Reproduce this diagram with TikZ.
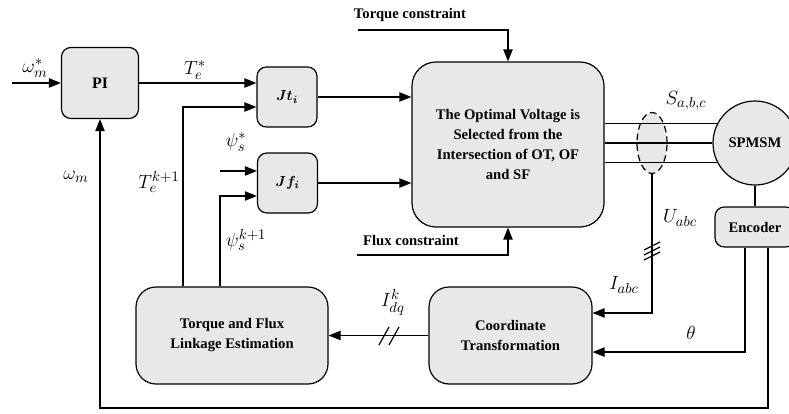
\documentclass[tikz,border=0pt]{standalone}
\usepackage{fontspec}
\setmainfont{Liberation Serif}
\usepackage{amsmath}
\usetikzlibrary{arrows.meta,shapes.geometric}

\definecolor{boxgray}{RGB}{232,232,232}

\tikzset{
  blk/.style={draw, line width=0.9pt, fill=boxgray, rounded corners=7pt,
              align=center, inner sep=0pt,
              font=\fontsize{11}{15}\selectfont\bfseries},
  sig/.style={line width=0.9pt, -{Triangle[length=9pt,width=7pt]}},
  wire/.style={line width=0.9pt},
  lbl/.style={font=\fontsize{15}{17}\selectfont, inner sep=0pt},
  cst/.style={font=\fontsize{11}{13}\selectfont\bfseries, inner sep=0pt},
}

\begin{document}
\begin{tikzpicture}[x=0.75pt, y=-0.75pt]
    \useasboundingbox (0,0) rectangle (789,414);

    % blocks
    \node[blk, minimum width=57.75pt, minimum height=53.25pt] (pi) at (100,83) {\fontsize{12}{14}\selectfont PI};
    \node[blk, minimum width=45pt, minimum height=45pt] (jt) at (287,97) {$\boldsymbol{Jt_i}$};
    \node[blk, minimum width=45pt, minimum height=45pt] (jf) at (287.5,183) {$\boldsymbol{Jf_i}$};
    \node[blk, rounded corners=18pt, minimum width=144pt, minimum height=123.75pt] (big) at (508,144.5)
      {The Optimal Voltage is\\Selected from the\\Intersection of OT, OF\\and SF};
    \node[blk, rounded corners=15pt, minimum width=144pt, minimum height=72.75pt] (est) at (232,335.5)
      {Torque and Flux\\Linkage Estimation};
    \node[blk, rounded corners=15pt, minimum width=122.25pt, minimum height=72.75pt] (crd) at (510.5,335.5)
      {Coordinate\\Transformation};
    \node[blk, circle, minimum size=63pt] (mot) at (755,143) {SPMSM};
    \node[blk, minimum width=60pt, minimum height=30pt] (enc) at (755,227) {Encoder};
    \node[ellipse, draw, dashed, dash pattern=on 5pt off 3pt, line width=0.9pt, fill=boxgray,
          minimum width=22.5pt, minimum height=45.75pt, inner sep=0pt] (grp) at (652,143) {};

    % constraint texts
    \node[cst] (tcl) at (410,15) {Torque constraint};
    \node[cst] (fcl) at (411,240) {Flux constraint};

    \coordinate (win) at (12,83);
    \coordinate (tkb) at (183,107);
    \coordinate (pkb) at (220,196);
    \coordinate (psin) at (220,171);
    \coordinate (tcs) at (358,30);
    \coordinate (fcs) at (357,255);
    \coordinate (fb) at (100,408);
    \coordinate (tri) at (652,251);
    \coordinate (dbl) at (389,336);

    % speed loop
    \draw[sig] (win) -- (pi.west);
    \draw[sig] (pi.east) -- (pi.east -| jt.west);
    \draw[sig] (est.north -| tkb) |- (jt.west |- tkb);
    \draw[sig] (psin) -- (jf.west |- psin);
    \draw[sig] (est.north -| pkb) |- (jf.west |- pkb);
    \draw[sig] (jt.east) -- (jt.east -| big.west);
    \draw[sig] (jf.east) -- (jf.east -| big.west);
    \draw[sig] (tcs) -| (big.north);
    \draw[sig] (fcs) -| (big.south);

    % inverter to motor
    \foreach \a in {153,180,207}
      \draw[wire] (big.east |- mot.\a) -- (mot.\a);
    \draw[wire] (mot.south) -- (enc.north);

    % current and position feedback
    \draw[sig] (grp.south) |- ([yshift=16.9pt]crd.east);
    \foreach \d in {-5,0,5}
      \draw[wire] ([shift={(-8,\d+4)}]tri) -- ([shift={(8,\d-4)}]tri);
    \draw[sig] ([xshift=-7.5pt]enc.south) |- ([yshift=-12.4pt]crd.east);
    \draw[sig] (crd.west) -- (est.east);
    \foreach \d in {-5,5}
      \draw[wire] ([shift={(\d-5,9)}]dbl) -- ([shift={(\d+5,-9)}]dbl);
    \draw[sig] ([xshift=9.75pt]enc.south) |- (fb) -- (pi.south);

    % labels
    \node[lbl] (lwr) at (35,68) {$\omega_m^{*}$};
    \node[lbl] (lte) at (195,70) {$T_e^{*}$};
    \node[lbl] (ltk) at (159,182) {$T_e^{k+1}$};
    \node[lbl] (lwm) at (76,177) {$\omega_m$};
    \node[lbl] (lps) at (236,142) {$\psi_s^{*}$};
    \node[lbl] (lpk) at (246,240) {$\psi_s^{k+1}$};
    \node[lbl] (lsa) at (686,101) {$S_{a,b,c}$};
    \node[lbl] (lua) at (680,218) {$U_{abc}$};
    \node[lbl] (lia) at (624,285) {$I_{abc}$};
    \node[lbl] (lid) at (393,302) {$I_{dq}^{k}$};
    \node[lbl] (lth) at (691,333) {$\theta$};
\end{tikzpicture}
\end{document}
